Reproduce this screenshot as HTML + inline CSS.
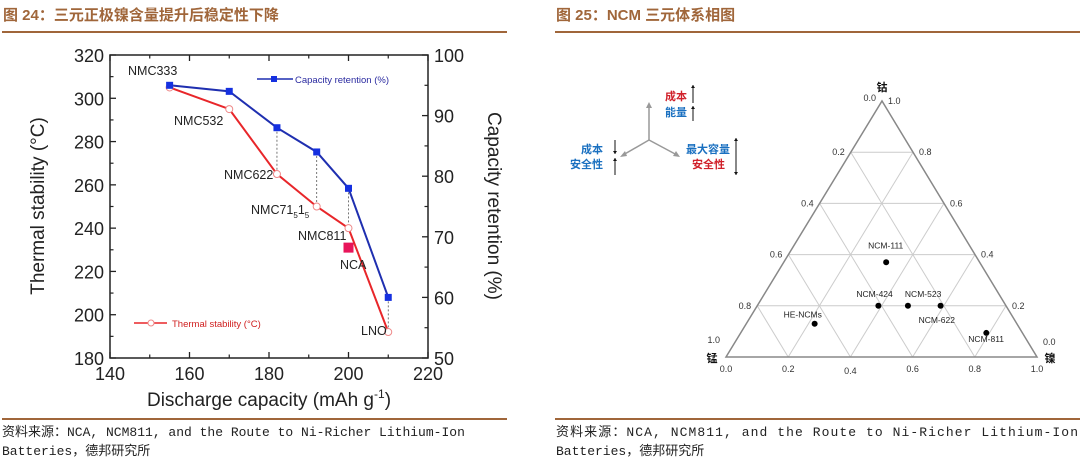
<!DOCTYPE html>
<html><head><meta charset="utf-8"><style>
body{margin:0;background:#fff;}
svg{display:block;font-family:"Liberation Sans","Noto Sans CJK SC",sans-serif;}
.mono{font-family:"Liberation Mono","Noto Sans CJK SC",monospace;}
</style></head><body>
<svg id="svg" width="1080" height="459" viewBox="0 0 1080 459">
<text x="3" y="20" font-size="15" font-weight="bold" fill="#a0663a">图 24：三元正极镍含量提升后稳定性下降</text>
<line x1="2" y1="32" x2="507" y2="32" stroke="#a0663a" stroke-width="2"/>
<text x="556" y="20" font-size="15" font-weight="bold" fill="#a0663a">图 25：NCM 三元体系相图</text>
<line x1="555" y1="32" x2="1080" y2="32" stroke="#a0663a" stroke-width="2"/>
<line x1="2" y1="419" x2="507" y2="419" stroke="#a0663a" stroke-width="2"/>
<line x1="555" y1="419" x2="1080" y2="419" stroke="#a0663a" stroke-width="2"/>
<text class="mono" x="2" y="436" font-size="13" fill="#222">资料来源：NCA, NCM811, and the Route to Ni-Richer Lithium-Ion</text>
<text class="mono" x="2" y="455" font-size="13" fill="#222">Batteries，德邦研究所</text>
<text class="mono" x="556" y="436" font-size="13" fill="#222" textLength="522">资料来源：NCA,  NCM811,  and  the  Route  to  Ni-Richer  Lithium-Ion</text>
<text class="mono" x="556" y="455" font-size="13" fill="#222">Batteries，德邦研究所</text>
<g id="chart1"></g>
<g id="chart2"></g>
</svg>
<script>
const NS="http://www.w3.org/2000/svg";
function mk(p,tag,at,txt){const e=document.createElementNS(NS,tag);for(const k in at)e.setAttribute(k,at[k]);if(txt!==undefined)e.textContent=txt;p.appendChild(e);return e;}

// ---- Chart 1 data ----
const grades=["NMC333","NMC532","NMC622","NMC71515","NMC811","LNO"];
const capacity=[155,170,182,192,200,210];
const thermal=[305,295,265,250,240,192];
const retention=[95,94,88,84,78,60];
const ncaCap=[200];
const ncaThermal=[231];
const xTicks=[140,160,180,200,220];
const yTicks=[180,200,220,240,260,280,300,320];
const y2Ticks=[50,60,70,80,90,100];

const L=110,R=428,T=55,B=358;
const xs=v=>L+(v-140)/80*(R-L);
const ys=v=>B-(v-180)/140*(B-T);
const y2s=v=>B-(v-50)/50*(B-T);
const c1=document.getElementById('chart1');
let e;
e=mk(c1,'rect',{x:L,y:T,width:R-L,height:B-T,fill:'none',stroke:'#222','stroke-width':1.5});


xTicks.forEach((t,i)=>{
  e=mk(c1,'text',{x:xs(t),y:B+22,'font-size':18,'text-anchor':'middle',fill:'#222'},String(t));
  
  
  [B,T].forEach(yy=>{mk(c1,'line',{x1:xs(t),x2:xs(t),y1:yy,y2:yy+(yy==B?-6:6),stroke:'#222','stroke-width':1.3});});
  if(i<xTicks.length-1){const m=xs(t+10);[B,T].forEach(yy=>{mk(c1,'line',{x1:m,x2:m,y1:yy,y2:yy+(yy==B?-3.5:3.5),stroke:'#222','stroke-width':1.2});});}
});
yTicks.forEach((t,i)=>{
  e=mk(c1,'text',{x:L-6,y:ys(t)+7,'font-size':18,'text-anchor':'end',fill:'#222'},String(t));
  
  
  mk(c1,'line',{x1:L,x2:L+6,y1:ys(t),y2:ys(t),stroke:'#222','stroke-width':1.3});
  if(i<yTicks.length-1)mk(c1,'line',{x1:L,x2:L+3.5,y1:ys(t+10),y2:ys(t+10),stroke:'#222','stroke-width':1.2});
});
y2Ticks.forEach((t,i)=>{
  e=mk(c1,'text',{x:R+6,y:y2s(t)+7,'font-size':18,fill:'#222'},String(t));
  
  
  mk(c1,'line',{x1:R,x2:R-6,y1:y2s(t),y2:y2s(t),stroke:'#222','stroke-width':1.3});
  if(i<y2Ticks.length-1)mk(c1,'line',{x1:R,x2:R-3.5,y1:y2s(t+5),y2:y2s(t+5),stroke:'#222','stroke-width':1.2});
});
e=mk(c1,'text',{x:269,y:406,'font-size':19,'text-anchor':'middle',fill:'#222'},'Discharge capacity (mAh g');


mk(e,'tspan',{'font-size':12,dy:-8},'-1');mk(e,'tspan',{dy:8},')');
e=mk(c1,'text',{x:0,y:0,'font-size':19,'text-anchor':'middle',fill:'#222',transform:'translate(44,206) rotate(-90)'},'Thermal stability (°C)');


e=mk(c1,'text',{x:0,y:0,'font-size':19,'text-anchor':'middle',fill:'#222',transform:'translate(488,206) rotate(90)'},'Capacity retention (%)');


capacity.forEach((c,i)=>{if(i>=2){e=mk(c1,'line',{x1:xs(c),x2:xs(c),y1:y2s(retention[i]),y2:ys(thermal[i]),stroke:'#555','stroke-dasharray':'2,2','stroke-width':0.8});

}});
e=mk(c1,'polyline',{points:capacity.map((c,i)=>xs(c)+','+ys(thermal[i])).join(' '),fill:'none',stroke:'#e8262a','stroke-width':2});


e=mk(c1,'polyline',{points:capacity.map((c,i)=>xs(c)+','+y2s(retention[i])).join(' '),fill:'none',stroke:'#1f2fb0','stroke-width':2});


capacity.forEach((c,i)=>{
  e=mk(c1,'circle',{cx:xs(c),cy:ys(thermal[i]),r:3.5,fill:'#fff',stroke:'#e88','stroke-width':1});
  
  
  e=mk(c1,'rect',{x:xs(c)-3.5,y:y2s(retention[i])-3.5,width:7,height:7,fill:'#1530e0'});
  
  
});
ncaCap.forEach((c,i)=>{e=mk(c1,'rect',{x:xs(c)-5,y:ys(ncaThermal[i])-5,width:10,height:10,fill:'#e8155a'});

});
const lbl=[[128,75,'NMC333'],[174,125,'NMC532'],[224,179,'NMC622'],[298,240,'NMC811'],[340,269,'NCA'],[361,335,'LNO']];
lbl.forEach(l=>{e=mk(c1,'text',{x:l[0],y:l[1],'font-size':12.5,fill:'#222'},l[2]);

});
e=mk(c1,'text',{x:251,y:214,'font-size':12.5,fill:'#222'},'NMC71');


mk(e,'tspan',{'font-size':8,dy:4},'5');mk(e,'tspan',{dy:-4},'1');mk(e,'tspan',{'font-size':8,dy:4},'5');
mk(c1,'line',{x1:257,x2:293,y1:79,y2:79,stroke:'#1f2fb0','stroke-width':1.5});
mk(c1,'rect',{x:271,y:76,width:6,height:6,fill:'#1530e0'});
e=mk(c1,'text',{x:295,y:83,'font-size':9.5,fill:'#2a2aa0'},'Capacity retention (%)');


mk(c1,'line',{x1:134,x2:167,y1:323,y2:323,stroke:'#e8262a','stroke-width':1.5});
mk(c1,'circle',{cx:151,cy:323,r:3,fill:'#fff',stroke:'#e88'});
e=mk(c1,'text',{x:172,y:327,'font-size':9.5,fill:'#d02020'},'Thermal stability (°C)');



// ---- Chart 2 data ----
const samples=["NCM-111","NCM-424","NCM-523","NCM-622","NCM-811","HE-NCMs"];
const nickel=[0.33,0.39,0.485,0.59,0.79,0.22];
const cobalt=[0.37,0.2,0.2,0.2,0.094,0.13];
const fracTicks=[0,0.2,0.4,0.6,0.8,1.0];
const c2=document.getElementById('chart2');
const XL=726,XR=1037,YB=357,XT=882,YT=101,W=XR-XL,H=YB-YT;
function tern(a,c){return [XL+a*(XR-XL)+c*(XT-XL), YB+c*(YT-YB)];}
[0.2,0.4,0.6,0.8].forEach(f=>{
  let p1=tern(0,f),p2=tern(1-f,f);
  mk(c2,'line',{x1:p1[0],y1:p1[1],x2:p2[0],y2:p2[1],stroke:'#ccc','stroke-width':1});
  p1=tern(f,0);p2=tern(f,1-f);
  mk(c2,'line',{x1:p1[0],y1:p1[1],x2:p2[0],y2:p2[1],stroke:'#ccc','stroke-width':1});
  p1=tern(f,0);p2=tern(0,f);
  mk(c2,'line',{x1:p1[0],y1:p1[1],x2:p2[0],y2:p2[1],stroke:'#ccc','stroke-width':1});
});
e=mk(c2,'polygon',{points:`${XL},${YB} ${XR},${YB} ${XT},${YT}`,fill:'none',stroke:'#888','stroke-width':1.5});


fracTicks.forEach(f=>{
  let p=tern(f,0);
  e=mk(c2,'text',{x:p[0],y:YB+15+(f==0.4?2:0),'font-size':9,'text-anchor':'middle',fill:'#333'},f.toFixed(1));
  
  
  p=tern(0,f);
  e=mk(c2,'text',{x:p[0]-6,y:p[1]+(f==1?0:(f==0?-14:3)),'font-size':9,'text-anchor':'end',fill:'#333'},(1-f).toFixed(1));
  
  
  p=tern(1-f,f);
  e=mk(c2,'text',{x:p[0]+6,y:p[1]+(f==0?-12:3),'font-size':9,fill:'#333'},f.toFixed(1));
  
  
});
e=mk(c2,'text',{x:882,y:91,'font-size':11,'font-weight':'bold','text-anchor':'middle',fill:'#111'},'钴');


e=mk(c2,'text',{x:712,y:362,'font-size':11,'font-weight':'bold','text-anchor':'middle',fill:'#111'},'锰');


e=mk(c2,'text',{x:1050,y:362,'font-size':11,'font-weight':'bold','text-anchor':'middle',fill:'#111'},'镍');


const off=[[-18,-14],[-22,-9],[-3,-9],[-22,17],[-18,9],[-31,-6]];
samples.forEach((s,i)=>{
  const q=[XL+nickel[i]*W+cobalt[i]*W*0.5, YB-cobalt[i]*H];
  e=mk(c2,'circle',{cx:q[0],cy:q[1],r:3,fill:'#000'});
  
  
  e=mk(c2,'text',{x:q[0]+off[i][0],y:q[1]+off[i][1],'font-size':8.5,fill:'#222'},s);
  
  
});
const g=mk(c2,'g',{});


mk(g,'line',{x1:649,y1:140,x2:649,y2:106,stroke:'#999','stroke-width':1.5});
mk(g,'polygon',{points:'646,108 652,108 649,102',fill:'#999'});
mk(g,'line',{x1:649,y1:140,x2:623,y2:155,stroke:'#999','stroke-width':1.5});
mk(g,'polygon',{points:'620,157 625,151 627,156',fill:'#999'});
mk(g,'line',{x1:649,y1:140,x2:677,y2:155,stroke:'#999','stroke-width':1.5});
mk(g,'polygon',{points:'680,157 673,156 676,151',fill:'#999'});
const tt=[[687,100,'成本','#d0202a'],[687,116,'能量','#1a70c0'],[603,153,'成本','#1a70c0'],[603,168,'安全性','#1a70c0'],[730,153,'最大容量','#1a70c0'],[725,168,'安全性','#d0202a']];
tt.forEach(t=>{e=mk(g,'text',{x:t[0],y:t[1],'font-size':11,'font-weight':'bold','text-anchor':'end',fill:t[3]},t[2]);

});
function arr(x,y1,y2){mk(g,'line',{x1:x,y1:y1,x2:x,y2:y2,stroke:'#111','stroke-width':1});const d=y2<y1?3:-3;mk(g,'polygon',{points:`${x-2},${y2+d} ${x+2},${y2+d} ${x},${y2}`,fill:'#111'});}
arr(693,103,85);arr(693,121,106);arr(615,140,154);arr(615,175,158);arr(736,158,138);arr(736,158,175);
</script>
</body></html>
